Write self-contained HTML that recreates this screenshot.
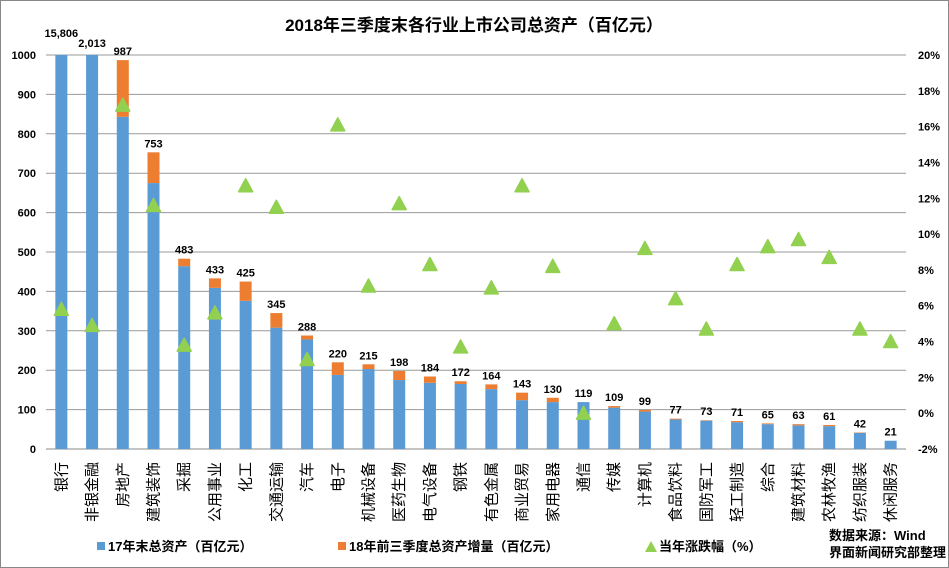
<!DOCTYPE html>
<html><head><meta charset="utf-8"><style>
body{margin:0;background:#fff}
svg{display:block;font-family:"Liberation Sans","Noto Sans CJK SC",sans-serif}
</style></head><body>
<svg id="c" width="949" height="568">
<rect x="0.5" y="0.5" width="948" height="567" fill="#fff" stroke="#888"/>
<text x="474" y="31" text-anchor="middle" font-size="17" font-weight="bold">2018年三季度末各行业上市公司总资产（百亿元）</text>
<g id="grid"></g><g id="bars"></g><g id="pts"></g><g id="axes"></g>
<g font-size="13" font-weight="bold">
<rect x="97" y="542" width="8" height="8" fill="#5b9bd5"/>
<text x="108" y="551">17年末总资产（百亿元）</text>
<rect x="338" y="542" width="8" height="8" fill="#ed7d31"/>
<text x="349" y="551">18年前三季度总资产增量（百亿元）</text>
<polygon points="645,552 651,541 657,552" fill="#92d050"/>
<text x="659" y="551">当年涨跌幅（%）</text>
</g>
<text x="829" y="540" font-size="13" font-weight="bold">数据来源：Wind</text>
<text x="829" y="557" font-size="13" font-weight="bold">界面新闻研究部整理</text>
</svg>
<script>
const categories=["银行","非银金融","房地产","建筑装饰","采掘","公用事业","化工","交通运输","汽车","电子","机械设备","医药生物","电气设备","钢铁","有色金属","商业贸易","家用电器","通信","传媒","计算机","食品饮料","国防军工","轻工制造","综合","建筑材料","农林牧渔","纺织服装","休闲服务"];
const totals=[15806,2013,987,753,483,433,425,345,288,220,215,198,184,172,164,143,130,119,109,99,77,73,71,65,63,61,42,21];
const baseVals=[15200,1950,843,675,464,409,376,308,278,188,203,175,168,165,152,124,119,119,105,95,75,72,68,63,60,58,41,21];
const changePct=[5.8,4.9,17.2,11.6,3.8,5.6,12.7,11.5,3.0,16.1,7.1,11.7,8.3,3.7,7.0,12.7,8.2,0.0,5.0,9.2,6.4,4.7,8.3,9.3,9.7,8.7,4.7,4.0];
const leftTicks=[0,100,200,300,400,500,600,700,800,900,1000];
const rightTicks=[-2,0,2,4,6,8,10,12,14,16,18,20];
const NS="http://www.w3.org/2000/svg";
const x0=46,x1=906,yB=449,yT=55;
const y=v=>yB-(Math.min(v,1000))/1000*(yB-yT);
const yr=p=>yB-(p+2)/22*(yB-yT);
const bw=(x1-x0)/categories.length;
const xc=i=>x0+bw*(i+0.5);
function mk(t,a,parent){const e=document.createElementNS(NS,t);for(const k in a)e.setAttribute(k,a[k]);parent.appendChild(e);return e;}
const G=document.getElementById('grid'),B=document.getElementById('bars'),P=document.getElementById('pts'),A=document.getElementById('axes');
leftTicks.forEach(t=>{
 const l=mk('line',{x1:x0,x2:x1,y1:y(t),y2:y(t),stroke:t===0?'#888':'#999','stroke-width':1},G);
 
 
 const tx=mk('text',{x:36,y:y(t)+4,'text-anchor':'end','font-size':11,'font-weight':'bold'},A);tx.textContent=t;
 
 
});
rightTicks.forEach(t=>{
 const tx=mk('text',{x:918,y:yr(t)+4,'font-size':11,'font-weight':'bold'},A);tx.textContent=t+'%';
 
 
});
categories.forEach((c,i)=>{
 const cx=xc(i),w=12;
 const yb=y(baseVals[i]),yt=y(totals[i]);
 const r1=mk('rect',{x:cx-w/2,y:yb,width:w,height:yB-yb,fill:'#5b9bd5'},B);
 
 
 if(yt<yb){const r2=mk('rect',{x:cx-w/2,y:yt,width:w,height:yb-yt,fill:'#ed7d31'},B);
 
 }
 let ly=yt-5; if(totals[i]>1000) ly=i===0?37:47;
 const lb=mk('text',{x:cx,y:ly,'text-anchor':'middle','font-size':11,'font-weight':'bold'},B);
 lb.textContent=totals[i].toLocaleString('en-US');
 
 
 const py=yr(changePct[i]);
 const tr=mk('polygon',{points:`${cx-7},${py+6} ${cx},${py-7} ${cx+7},${py+6}`,fill:'#92d050','stroke':'#92d050','stroke-linejoin':'round','stroke-width':1.5},P);
 
 
 const ct=mk('text',{transform:`translate(${cx+5},462) rotate(-90)`,'text-anchor':'end','font-size':15},A);
 ct.textContent=c;
 
 
});
</script>
</body></html>
